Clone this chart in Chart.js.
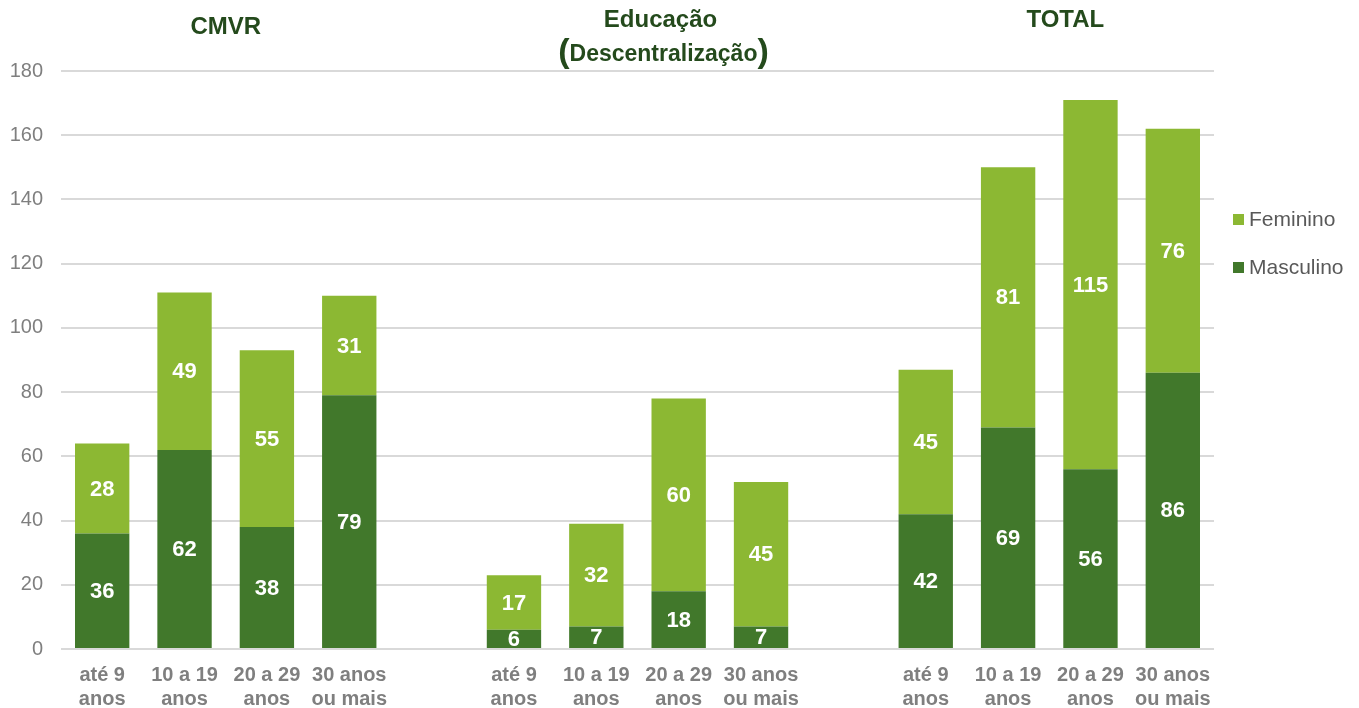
<!DOCTYPE html>
<html>
<head>
<meta charset="utf-8">
<script src="https://cdn.jsdelivr.net/npm/chart.js@4"></script>
<style>
  html, body { margin: 0; padding: 0; background: #fff; }
  #wrap { width: 1359px; height: 708px; }
</style>
</head>
<body>
<div id="wrap"><canvas id="myChart" width="1359" height="708"></canvas></div>
<script>
// data, blank slots separate the three groups
let categories = [
  ["até 9", "anos"], ["10 a 19", "anos"], ["20 a 29", "anos"], ["30 anos", "ou mais"], "",
  ["até 9", "anos"], ["10 a 19", "anos"], ["20 a 29", "anos"], ["30 anos", "ou mais"], "",
  ["até 9", "anos"], ["10 a 19", "anos"], ["20 a 29", "anos"], ["30 anos", "ou mais"]
];
let masculino = [36, 62, 38, 79, null, 6, 7, 18, 7, null, 42, 69, 56, 86];
let feminino  = [28, 49, 55, 31, null, 17, 32, 60, 45, null, 45, 81, 115, 76];
let groupTitles = ["CMVR", "Educação", "TOTAL"];
let yTicks = [0, 20, 40, 60, 80, 100, 120, 140, 160, 180];

const darkGreen = "#41782b";
const lightGreen = "#8cb833";
const titleColor = "#244a1c";
const greyText = "#7f7f7f";
const fontName = "'Liberation Sans', Arial, sans-serif";

// ------------------------------------------------------------------
// white value labels inside each bar segment
const valueLabels = {
  id: "valueLabels",
  afterDatasetsDraw(chart) {
    const ctx = chart.ctx;
    ctx.save();
    ctx.fillStyle = "#fff";
    ctx.font = "bold 22px " + fontName;
    ctx.textAlign = "center";
    ctx.textBaseline = "middle";
    chart.data.datasets.forEach((ds, i) => {
      chart.getDatasetMeta(i).data.forEach((bar, j) => {
        if (ds.data[j] == null) return;
        const p = bar.getProps(["x", "y", "base"], true);
        ctx.fillText(ds.data[j], p.x, (p.y + p.base) / 2 + 1);
      });
    });
    ctx.restore();
  }
};

// group titles above the plot and the legend on the right
const extras = {
  id: "extras",
  afterDraw(chart) {
    const ctx = chart.ctx;
    const x = chart.scales.x;
    ctx.save();
    ctx.fillStyle = titleColor;
    ctx.font = "bold 24px " + fontName;
    ctx.textAlign = "center";
    ctx.textBaseline = "middle";
    const mid = (a, b) => (x.getPixelForValue(a) + x.getPixelForValue(b)) / 2;
    ctx.fillText(groupTitles[0], mid(0, 3), 27);
    ctx.fillText(groupTitles[1], mid(5, 8) + 23, 20);
    ctx.fillText(groupTitles[2], mid(10, 13) + 16, 20);

    // "(Descentralização)" with taller parentheses
    const cx = mid(5, 8) + 26;
    const inner = "Descentralização";
    ctx.font = "bold 23px " + fontName;
    const w = ctx.measureText(inner).width;
    ctx.fillText(inner, cx, 55);
    ctx.font = "bold 34px " + fontName;
    const pw = ctx.measureText("(").width;
    ctx.fillText("(", cx - w / 2 - pw / 2, 53);
    ctx.fillText(")", cx + w / 2 + pw / 2, 53);

    // legend
    const items = [["Feminino", lightGreen, 220], ["Masculino", darkGreen, 268]];
    ctx.textAlign = "left";
    ctx.font = "21px " + fontName;
    items.forEach(([label, color, y]) => {
      ctx.fillStyle = color;
      ctx.fillRect(1233, y - 6, 11, 11);
      ctx.fillStyle = "#595959";
      ctx.fillText(label, 1249, y);
    });
    ctx.restore();
  }
};

const ctx = document.getElementById("myChart").getContext("2d");
const myChart = new Chart(ctx, {
  type: "bar",
  data: {
    labels: categories,
    datasets: [
      {
        label: "Masculino",
        data: masculino,
        backgroundColor: darkGreen,
        categoryPercentage: 1,
        barPercentage: 0.66
      },
      {
        label: "Feminino",
        data: feminino,
        backgroundColor: lightGreen,
        categoryPercentage: 1,
        barPercentage: 0.66
      }
    ]
  },
  options: {
    responsive: false,
    maintainAspectRatio: false,
    animation: false,
    layout: { padding: { top: 71, right: 145, left: 0, bottom: 0 } },
    plugins: {
      legend: { display: false },
      tooltip: { enabled: false },
      title: { display: false }
    },
    scales: {
      x: {
        stacked: true,
        grid: { display: false },
        border: { display: false },
        ticks: {
          color: greyText,
          font: { family: fontName, size: 20, weight: "bold", lineHeight: 1.2 },
          padding: 6,
          maxRotation: 0,
          autoSkip: false
        },
        afterFit: (s) => { s.height = 59; }
      },
      y: {
        stacked: true,
        min: 0,
        max: 180,
        afterBuildTicks: (s) => { s.ticks = yTicks.map((v) => ({ value: v })); },
        grid: { color: "#d9d9d9", lineWidth: 2, drawTicks: false },
        border: { display: false },
        ticks: {
          color: greyText,
          font: { family: fontName, size: 20 },
          padding: 18
        },
        afterFit: (s) => { s.width = 61; }
      }
    }
  },
  plugins: [valueLabels, extras]
});
</script>
</body>
</html>
